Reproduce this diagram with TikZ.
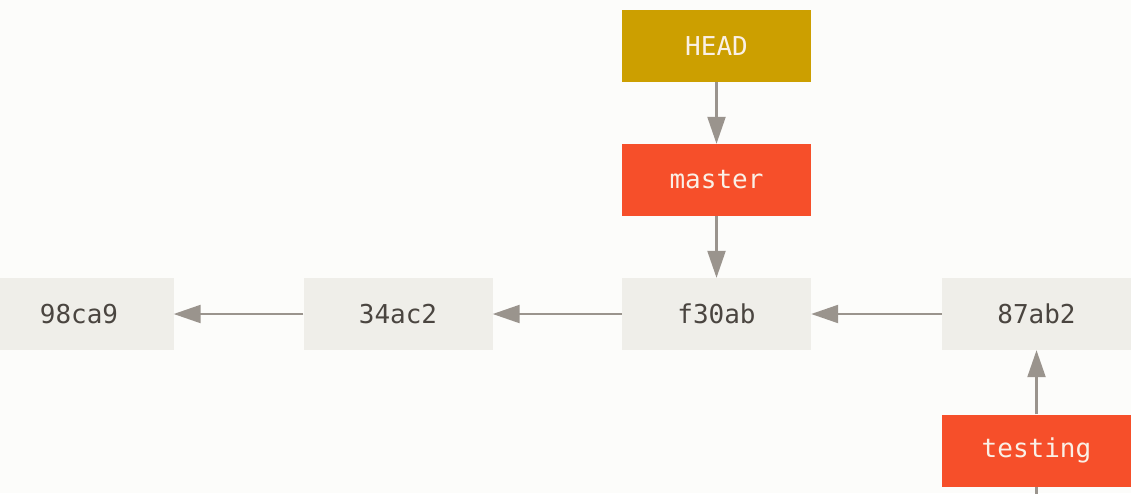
\documentclass[tikz,border=0pt]{standalone}
\usepackage{fontspec}
\setmonofont{DejaVu Sans Mono}
\usetikzlibrary{arrows.meta}
\definecolor{bg}{HTML}{FCFCFA}
\definecolor{commitfill}{HTML}{EFEEE9}
\definecolor{headfill}{HTML}{CC9F00}
\definecolor{branchfill}{HTML}{F64F2A}
\definecolor{arrowcol}{HTML}{9A948D}
\definecolor{committext}{HTML}{4A4540}
\definecolor{labeltext}{HTML}{FAF0E6}
\tikzset{
  box/.style={rectangle, inner sep=0pt, minimum width=189pt, minimum height=72pt,
    font=\ttfamily\fontsize{26}{30}\selectfont},
  commit/.style={box, fill=commitfill, text=committext},
  headbox/.style={box, fill=headfill, text=labeltext},
  branch/.style={box, fill=branchfill, text=labeltext},
  link/.style={draw=arrowcol, line width=2.2pt, -{Triangle[length=27pt,width=18pt]}},
}
\begin{document}
\begin{tikzpicture}[x=1pt,y=-1pt]
\clip (0,0) rectangle (1131,493);
\fill[bg] (0,0) rectangle (1131,493);
\node[headbox] (head) at (716.5,46) {HEAD};
\node[branch] (master) at (716.5,180) {master};
\node[commit] (c1) at (79,314) {98ca9};
\node[commit] (c2) at (398,314) {34ac2};
\node[commit] (c3) at (716.5,314) {f30ab};
\node[commit] (c4) at (1036.5,314) {87ab2};
\node[branch] (testing) at (1036.5,450.5) {testing};
\coordinate (below) at (1036.5,510);
\draw[link] (head) -- (master);
\draw[link] (master) -- (c3);
\draw[link] (c2) -- (c1);
\draw[link] (c3) -- (c2);
\draw[link] (c4) -- (c3);
\draw[link] (testing) -- (c4);
\draw[draw=arrowcol, line width=2.2pt] (below) -- (testing);
\end{tikzpicture}
\end{document}
